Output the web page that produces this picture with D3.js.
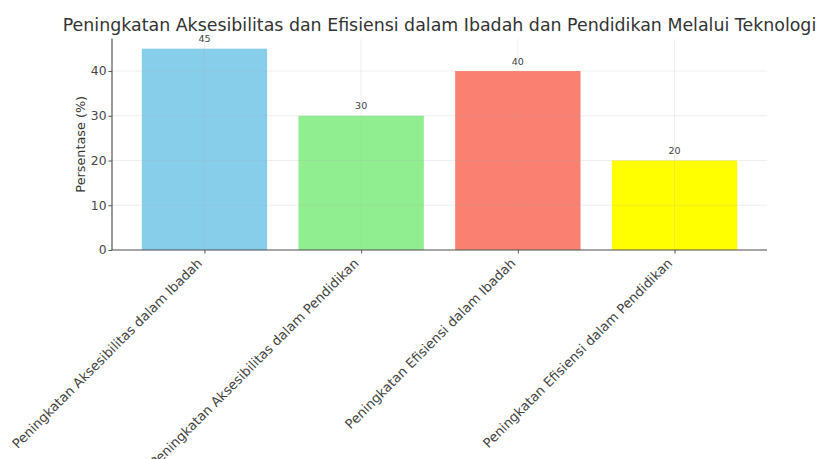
<!DOCTYPE html>
<html>
<head>
<meta charset="utf-8">
<script src="https://cdn.jsdelivr.net/npm/d3@7"></script>
<style>
	body { margin: 0; background: #fff; }
	text { font-family: "DejaVu Sans", sans-serif; }
</style>
</head>
<body>
<svg id="chart1"></svg>
<script>
var categories = [
	"Peningkatan Aksesibilitas dalam Ibadah",
	"Peningkatan Aksesibilitas dalam Pendidikan",
	"Peningkatan Efisiensi dalam Ibadah",
	"Peningkatan Efisiensi dalam Pendidikan"
];
var values = [45, 30, 40, 20];
var barColors = ["#87CEEB", "#90EE90", "#FA8072", "#FFFF00"];
var yTicks = [0, 10, 20, 30, 40];
var title = "Peningkatan Aksesibilitas dan Efisiensi dalam Ibadah dan Pendidikan Melalui Teknologi";
var yLabel = "Persentase (%)";

draw_chart();

function draw_chart() {
	var W = 819, H = 459;
	var margin = {top: 38.6, right: 52, bottom: 209, left: 112},
		width = W - margin.left - margin.right,
		height = H - margin.top - margin.bottom;

	var svg = d3.select('#chart1')
		.attr("width", W)
		.attr("height", H);

	var g = svg.append("g")
		.attr("transform", "translate(" + margin.left + "," + margin.top + ")");

	// matplotlib style: bar width 0.8, 5% margins
	var x = d3.scaleLinear()
		.domain([-0.59, categories.length - 1 + 0.59])
		.range([0, width]);
	var y = d3.scaleLinear()
		.domain([0, d3.max(values) * 1.05])
		.range([height, 0]);

	g.selectAll(".bar")
		.data(values)
		.enter().append("rect")
		.attr("class", "bar")
		.attr("x", function (d, i) { return x(i - 0.4); })
		.attr("width", x(0.8) - x(0))
		.attr("y", function (d) { return y(d); })
		.attr("height", function (d) { return height - y(d); })
		.style("fill", function (d, i) { return barColors[i]; });

	// grid on top, faint
	g.selectAll(".hgrid")
		.data(yTicks)
		.enter().append("line")
		.attr("x1", 0).attr("x2", width)
		.attr("y1", function (d) { return y(d); })
		.attr("y2", function (d) { return y(d); })
		.style("stroke", "#b0b0b0")
		.style("stroke-opacity", 0.25)
		.style("stroke-width", 0.8);

	g.selectAll(".vgrid")
		.data(categories)
		.enter().append("line")
		.attr("x1", function (d, i) { return x(i); })
		.attr("x2", function (d, i) { return x(i); })
		.attr("y1", 0).attr("y2", height)
		.style("stroke", "#b0b0b0")
		.style("stroke-opacity", 0.25)
		.style("stroke-width", 0.8);

	// value labels
	g.selectAll(".vlab")
		.data(values)
		.enter().append("text")
		.attr("x", function (d, i) { return x(i); })
		.attr("y", function (d) { return y(d) - 6.5; })
		.attr("text-anchor", "middle")
		.attr("font-size", "9.5px")
		.attr("fill", "#444")
		.text(function (d) { return d; });

	// y axis
	var yAxis = g.append("g")
		.call(d3.axisLeft(y).tickValues(yTicks).tickSize(3.5).tickPadding(2));
	yAxis.select(".domain").attr("stroke", "#555").attr("stroke-width", 1.2)
		.attr("d", "M0," + height + "V0");
	yAxis.selectAll(".tick line").attr("stroke", "#555");
	yAxis.selectAll(".tick text")
		.attr("font-size", "12.3px")
		.attr("fill", "#444")
		.style("font-family", "DejaVu Sans");

	// x axis
	var xAxis = g.append("g")
		.attr("transform", "translate(0," + height + ")")
		.call(d3.axisBottom(x).tickValues(d3.range(categories.length))
			.tickFormat(function (d) { return categories[d]; })
			.tickSize(3.5));
	xAxis.select(".domain").attr("stroke", "#555").attr("stroke-width", 1.2)
		.attr("d", "M0,0H" + width);
	xAxis.selectAll(".tick line").attr("stroke", "#555");
	xAxis.selectAll(".tick text")
		.attr("font-size", "13.2px")
		.attr("fill", "#444")
		.style("font-family", "DejaVu Sans")
		.attr("text-anchor", "end")
		.attr("x", null).attr("y", null).attr("dy", null)
		.attr("transform", "translate(-2,14) rotate(-45)");

	// y label
	svg.append("text")
		.attr("transform", "translate(84.5," + (margin.top + height / 2) + ") rotate(-90)")
		.attr("text-anchor", "middle")
		.attr("font-size", "12.8px")
		.attr("fill", "#333")
		.text(yLabel);

	// title
	svg.append("text")
		.attr("x", margin.left + width / 2)
		.attr("y", 30.5)
		.attr("text-anchor", "middle")
		.attr("font-size", "17.4px")
		.attr("fill", "#333")
		.text(title);
}
</script>
</body>
</html>
